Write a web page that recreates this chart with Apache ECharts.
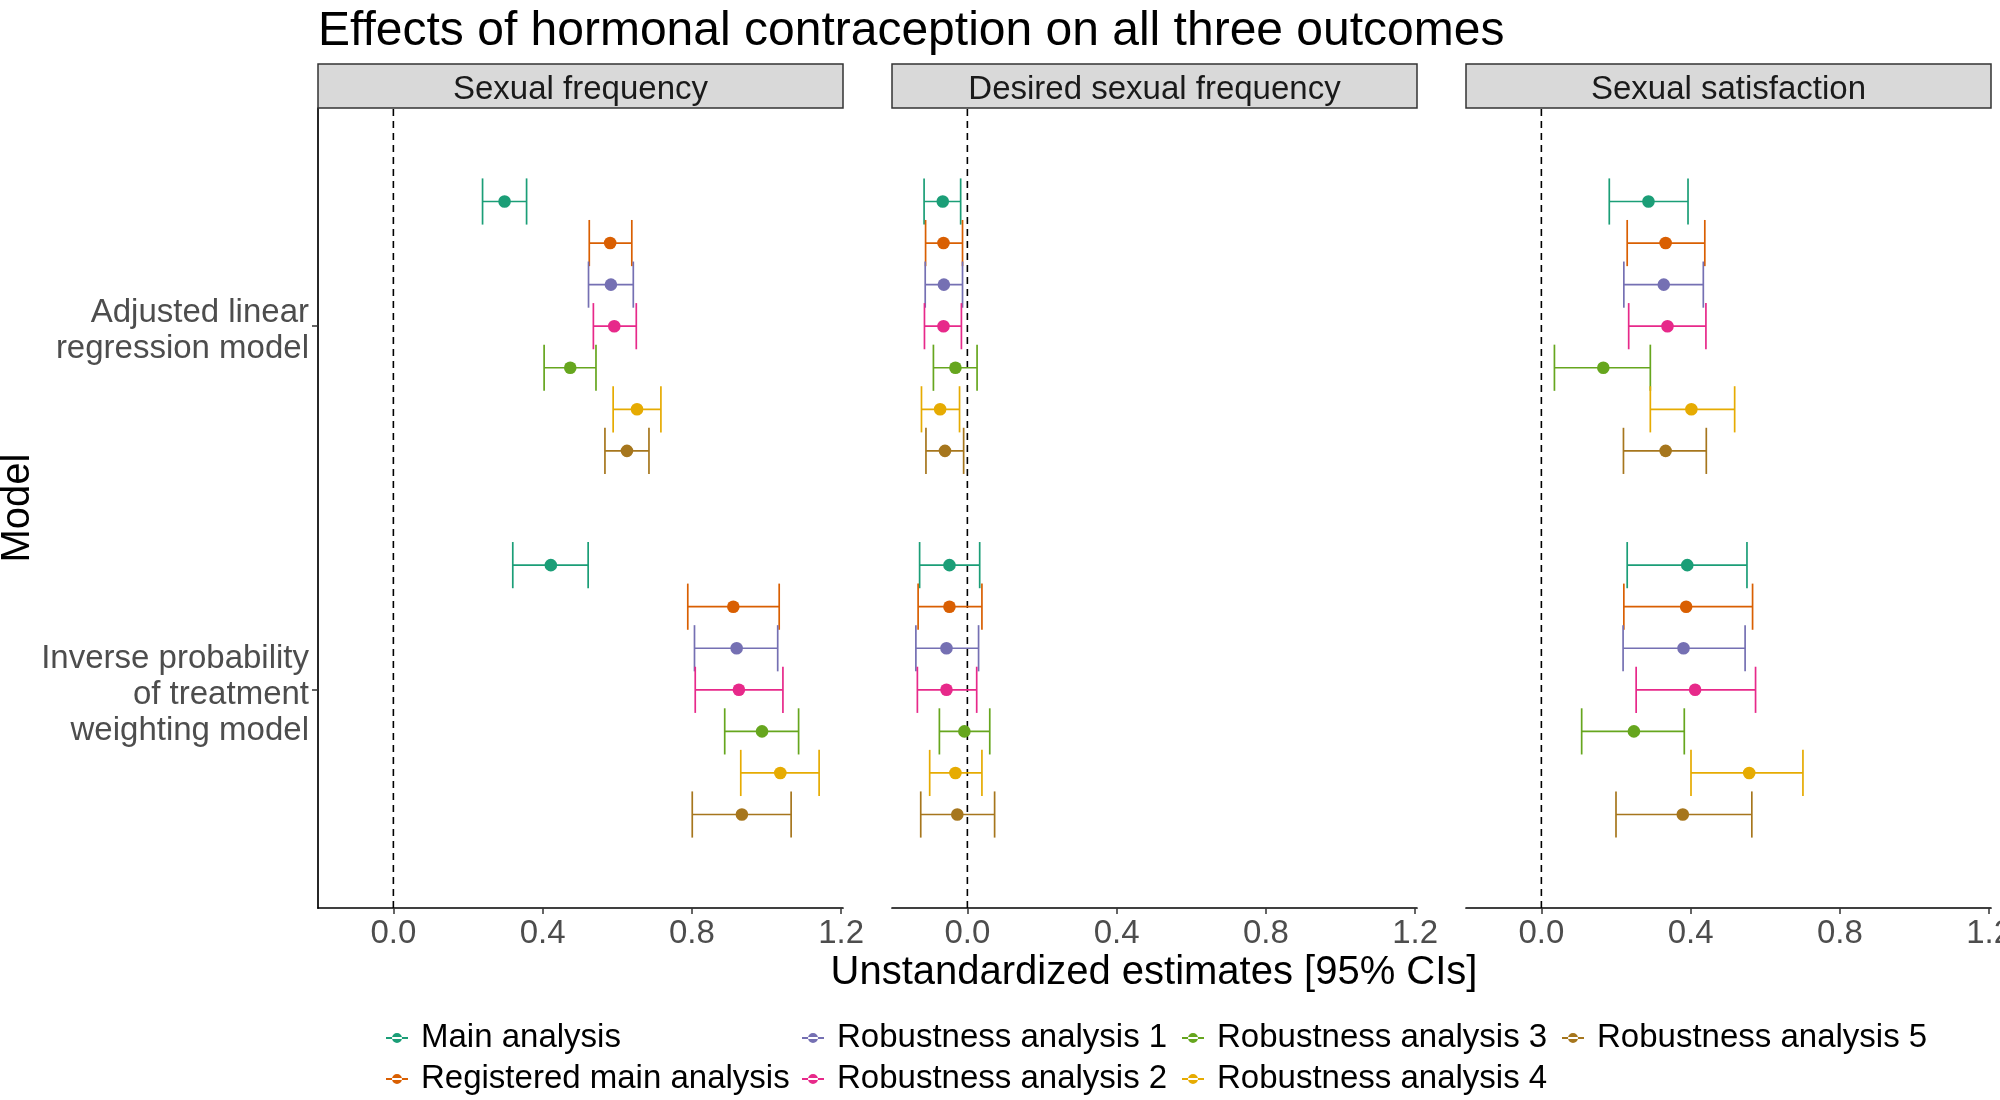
<!DOCTYPE html>
<html>
<head>
<meta charset="utf-8">
<script src="https://cdn.jsdelivr.net/npm/echarts@6/dist/echarts.min.js"></script>
<style>html,body{margin:0;padding:0;background:#fff;}#chart{width:2000px;height:1100px;}</style>
</head>
<body>
<div id="chart"></div>
<script>
// ---------- DATA ----------
const seriesNames = ['Main analysis','Registered main analysis','Robustness analysis 1','Robustness analysis 2','Robustness analysis 3','Robustness analysis 4','Robustness analysis 5'];
const seriesColors = ['#1B9E77','#D95F02','#7570B3','#E7298A','#66A61E','#E6AB02','#A6761D'];
const panelTitles = ['Sexual frequency','Desired sexual frequency','Sexual satisfaction'];
const modelLabels = ['Inverse probability\nof treatment\nweighting model','Adjusted linear\nregression model']; // y = 1, y = 2
const xTickValues = [0, 0.4, 0.8, 1.2];
const yTickValues = [1, 2];

// [lower CI, estimate, upper CI] per series
const sexFreq_adjusted = [
  [0.239,0.298,0.357],[0.525,0.581,0.639],[0.523,0.583,0.643],[0.536,0.592,0.651],
  [0.404,0.474,0.543],[0.589,0.653,0.717],[0.567,0.626,0.685]];
const sexFreq_iptw = [
  [0.320,0.422,0.522],[0.789,0.911,1.034],[0.807,0.920,1.030],[0.809,0.926,1.044],
  [0.888,0.988,1.086],[0.931,1.037,1.141],[0.801,0.934,1.066]];
const desired_adjusted = [
  [-0.116,-0.066,-0.018],[-0.112,-0.064,-0.013],[-0.113,-0.063,-0.013],[-0.115,-0.064,-0.016],
  [-0.091,-0.032,0.026],[-0.123,-0.073,-0.021],[-0.111,-0.060,-0.010]];
const desired_iptw = [
  [-0.128,-0.048,0.033],[-0.132,-0.048,0.039],[-0.138,-0.056,0.030],[-0.134,-0.056,0.025],
  [-0.075,-0.008,0.060],[-0.101,-0.032,0.039],[-0.125,-0.027,0.073]];
const satisfaction_adjusted = [
  [0.182,0.287,0.393],[0.230,0.333,0.438],[0.221,0.328,0.434],[0.234,0.338,0.441],
  [0.035,0.166,0.292],[0.292,0.402,0.518],[0.220,0.333,0.442]];
const satisfaction_iptw = [
  [0.230,0.391,0.551],[0.221,0.388,0.566],[0.219,0.381,0.546],[0.254,0.412,0.574],
  [0.108,0.248,0.383],[0.401,0.557,0.701],[0.200,0.379,0.564]];

const panelData = [
  {adjusted: sexFreq_adjusted, iptw: sexFreq_iptw},
  {adjusted: desired_adjusted, iptw: desired_iptw},
  {adjusted: satisfaction_adjusted, iptw: satisfaction_iptw}
];

// ---------- LAYOUT ----------
const FONT = 'Liberation Sans, Arial, sans-serif';
const gridLefts = [318, 892, 1466];
const gridW = 525, gridTop = 108, gridH = 800;
const xMin = -0.202, xMax = 1.205;
const yMin = 0.4, yMax = 2.6;
const dodge = 0.1143;
const capHeight = 0.127;
const labelNudge = 0.014; // small downward nudge of the multi-line y labels

function renderItem(params, api) {
  const lo = api.value(0), est = api.value(1), hi = api.value(2), y = api.value(3);
  const pLo = api.coord([lo, y]);
  const pHi = api.coord([hi, y]);
  const pE = api.coord([est, y]);
  const capH = api.size([0, capHeight])[1];
  const color = api.visual('color');
  const ls = {stroke: color, lineWidth: 1.7};
  return {
    type: 'group',
    children: [
      {type: 'line', shape: {x1: pLo[0], y1: pLo[1], x2: pHi[0], y2: pHi[1]}, style: ls},
      {type: 'line', shape: {x1: pLo[0], y1: pLo[1] - capH / 2, x2: pLo[0], y2: pLo[1] + capH / 2}, style: ls},
      {type: 'line', shape: {x1: pHi[0], y1: pHi[1] - capH / 2, x2: pHi[0], y2: pHi[1] + capH / 2}, style: ls},
      {type: 'circle', shape: {cx: pE[0], cy: pE[1], r: 6.3}, style: {fill: color}}
    ]
  };
}

const grids = [], xAxes = [], yAxes = [], series = [], graphics = [];
panelTitles.forEach((title, p) => {
  grids.push({left: gridLefts[p], top: gridTop, width: gridW, height: gridH, containLabel: false, outerBoundsMode: 'none'});
  xAxes.push({
    type: 'value', gridIndex: p, min: xMin, max: xMax,
    splitLine: {show: false},
    axisLine: {show: true, onZero: false, lineStyle: {color: '#000', width: 1.7}},
    axisTick: {show: true, customValues: xTickValues, length: 6, lineStyle: {color: '#333', width: 1.5}},
    axisLabel: {show: true, customValues: xTickValues, formatter: v => v.toFixed(1), color: '#4D4D4D', fontSize: 33, fontFamily: FONT, margin: 9.5, hideOverlap: false}
  });
  yAxes.push({
    type: 'value', gridIndex: p, min: yMin, max: yMax,
    splitLine: {show: false},
    axisLine: {show: p === 0, onZero: false, lineStyle: {color: '#000', width: 1.7}},
    axisTick: {show: p === 0, customValues: yTickValues, length: 6, lineStyle: {color: '#333', width: 1.5}},
    axisLabel: {show: p === 0, customValues: yTickValues.map(v => v - labelNudge), formatter: v => modelLabels[Math.round(v) - 1],
      color: '#4D4D4D', fontSize: 33, lineHeight: 36, fontFamily: FONT, margin: 9, align: 'right'}
  });
  // zero reference line
  series.push({
    type: 'line', xAxisIndex: p, yAxisIndex: p, silent: true, symbol: 'none', z: 1,
    data: [[0, yMin], [0, yMax]],
    lineStyle: {color: '#000', type: [7, 5], width: 1.6}
  });
  seriesNames.forEach((name, s) => {
    const off = (3 - s) * dodge;
    series.push({
      type: 'custom', name: name, xAxisIndex: p, yAxisIndex: p, z: 2,
      renderItem: renderItem,
      itemStyle: {color: seriesColors[s]},
      encode: {x: [0, 1, 2], y: 3},
      data: [
        panelData[p].adjusted[s].concat([2 + off]),
        panelData[p].iptw[s].concat([1 + off])
      ]
    });
  });
  // strip
  graphics.push({
    type: 'rect', shape: {x: gridLefts[p], y: 64, width: gridW, height: 44},
    style: {fill: '#D9D9D9', stroke: '#333333', lineWidth: 1.5}, z: 10
  });
  graphics.push({
    type: 'text', x: gridLefts[p] + gridW / 2, y: 89.5, z: 11,
    style: {text: title, fill: '#1A1A1A', fontSize: 33, fontFamily: FONT, align: 'center', verticalAlign: 'middle'}
  });
});

graphics.push({
  type: 'text', x: 318, y: 31.5, z: 11,
  style: {text: 'Effects of hormonal contraception on all three outcomes', fill: '#000', fontSize: 48, fontFamily: FONT, align: 'left', verticalAlign: 'middle'}
});
graphics.push({
  type: 'text', x: 1154, y: 972.5, z: 11,
  style: {text: 'Unstandardized estimates [95% CIs]', fill: '#000', fontSize: 40, fontFamily: FONT, align: 'center', verticalAlign: 'middle'}
});
graphics.push({
  type: 'text', x: 18, y: 508, rotation: Math.PI / 2, z: 11,
  style: {text: 'Model', fill: '#000', fontSize: 40, fontFamily: FONT, align: 'center', verticalAlign: 'middle'}
});

// legends, column-major
const legendColumns = [[0, 1], [2, 3], [4, 5], [6]];
const legendLefts = [386, 802, 1182, 1562];
const legendIcon = 'path://M0,4.6 L22,4.6 L22,6.4 L0,6.4 Z M6,5.5 A5,5 0 1,0 16,5.5 A5,5 0 1,0 6,5.5 Z';
const legends = legendColumns.map((col, i) => ({
  orient: 'vertical', left: legendLefts[i], top: 1020, padding: 0,
  itemWidth: 22, itemHeight: 11, itemGap: 5, selectedMode: false,
  icon: legendIcon,
  textStyle: {fontSize: 33, color: '#000', fontFamily: FONT, lineHeight: 36, padding: [0, 0, 0, 8]},
  data: col.map(s => seriesNames[s])
}));

const chart = echarts.init(document.getElementById('chart'), null, {renderer: 'canvas'});
chart.setOption({
  animation: false,
  backgroundColor: '#fff',
  grid: grids,
  xAxis: xAxes,
  yAxis: yAxes,
  legend: legends,
  series: series,
  graphic: graphics
});
</script>
</body>
</html>
